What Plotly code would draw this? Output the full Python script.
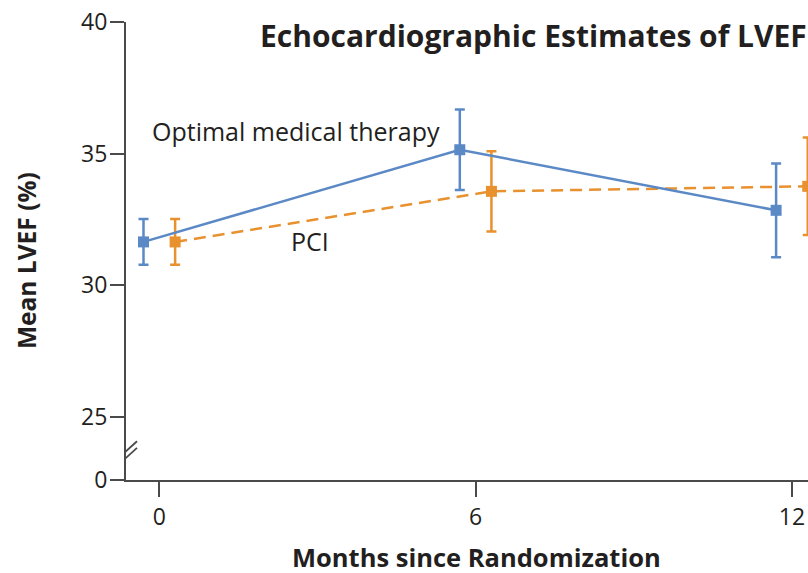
import plotly.graph_objects as go

# ---- data ----
months = [0, 6, 12]
omt_mean = [31.65, 35.15, 32.85]
omt_err = [0.87, 1.53, 1.78]
pci_mean = [31.65, 33.57, 33.76]
pci_err = [0.87, 1.52, 1.85]
offset = 0.3  # horizontal dodge in months

y_tick_vals = [25, 30, 35, 40]
y_tick_text = ["25", "30", "35", "40"]
y_break_value = 22.61  # axis position standing in for 0 (broken axis)
x_tick_vals = [0, 6, 12]

BLUE = "#5B89C6"
ORANGE = "#E8912E"
TEXT = "#231F20"
AXIS = "#4A4A4A"
FONT = "Open Sans"

fig = go.Figure()

fig.add_trace(go.Scatter(
    x=[m + offset for m in months], y=pci_mean,
    mode="lines+markers",
    line=dict(color=ORANGE, width=2.5, dash="12px,7px"),
    marker=dict(symbol="square", size=11, color=ORANGE),
    error_y=dict(type="data", array=pci_err, color=ORANGE, thickness=2.5, width=5),
    name="PCI", showlegend=False,
))
fig.add_trace(go.Scatter(
    x=[m - offset for m in months], y=omt_mean,
    mode="lines+markers",
    line=dict(color=BLUE, width=2.5),
    marker=dict(symbol="square", size=11, color=BLUE),
    error_y=dict(type="data", array=omt_err, color=BLUE, thickness=2.5, width=5),
    name="Optimal medical therapy", showlegend=False,
))

x_min = -0.632
x_max = 12.305

fig.update_layout(
    width=808, height=573,
    margin=dict(l=126, r=0, t=22, b=93),
    paper_bgcolor="white", plot_bgcolor="white",
    font=dict(family=FONT, color=TEXT),
    xaxis=dict(
        range=[x_min, x_max], tickvals=x_tick_vals,
        ticks="outside", ticklen=15, tickwidth=2, tickcolor=AXIS,
        showline=True, linecolor=AXIS, linewidth=2,
        showgrid=False, zeroline=False,
        tickfont=dict(size=23, family=FONT, color=TEXT),
    ),
    yaxis=dict(
        range=[y_break_value, 40],
        tickvals=[y_break_value] + y_tick_vals,
        ticktext=["0"] + y_tick_text,
        ticks="outside", ticklen=14, tickwidth=2, tickcolor=AXIS,
        showline=True, linecolor=AXIS, linewidth=2,
        showgrid=False, zeroline=False,
        tickfont=dict(size=23, family=FONT, color=TEXT),
        ticklabelstandoff=-2,
    ),
)

# axis break marks
for yc in [23.45, 23.70]:
    fig.add_shape(
        type="line", xref="x", yref="y",
        xsizemode="pixel", ysizemode="pixel",
        xanchor=x_min, yanchor=yc,
        x0=-11, x1=11, y0=-10, y1=10,
        line=dict(color=AXIS, width=1.8),
    )

fig.add_annotation(text="Optimal medical therapy", x=-0.17, y=35.85, xref="x", yref="y",
                   xanchor="left", yanchor="middle", showarrow=False,
                   font=dict(size=25, family=FONT, color=TEXT))
fig.add_annotation(text="PCI", x=2.86, y=31.7, xref="x", yref="y",
                   xanchor="center", yanchor="middle", showarrow=False,
                   font=dict(size=25, family=FONT, color=TEXT))

fig.add_annotation(text="<b>Echocardiographic Estimates of LVEF</b>", x=(533 - 126) / 682, y=1.0,
                   xref="paper", yref="paper", yshift=-13,
                   xanchor="center", yanchor="middle", showarrow=False,
                   font=dict(size=30, family=FONT, color=TEXT))
fig.add_annotation(text="<b>Months since Randomization</b>", x=(476 - 126) / 682, y=0,
                   xref="paper", yref="paper", yshift=-77,
                   xanchor="center", yanchor="middle", showarrow=False,
                   font=dict(size=25.5, family=FONT, color=TEXT))
fig.add_annotation(text="<b>Mean LVEF (%)</b>", x=0, y=(480 - 251) / 458,
                   xref="paper", yref="paper", xshift=-100, yshift=-10, textangle=-90,
                   xanchor="center", yanchor="middle", showarrow=False,
                   font=dict(size=24.5, family=FONT, color=TEXT))

fig.write_html("out.html")
